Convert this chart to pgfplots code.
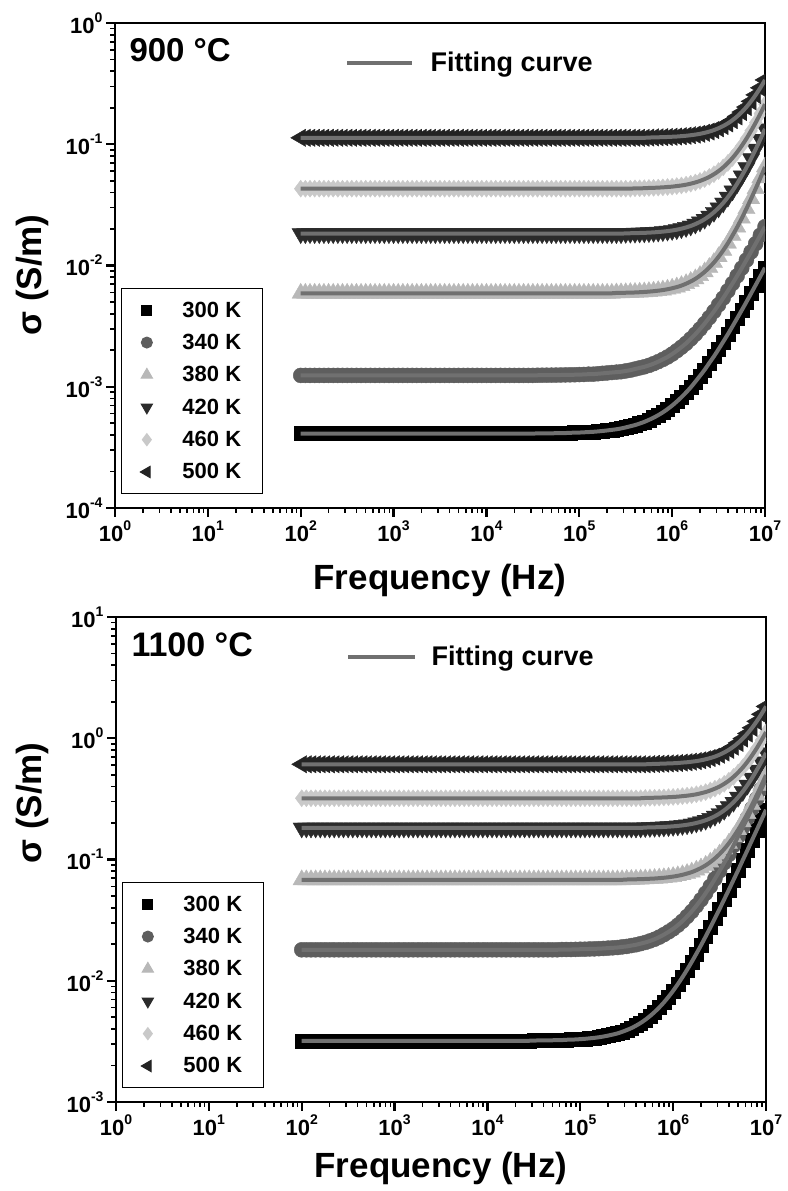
\documentclass[border=0pt]{standalone}
\usepackage{pgfplots}
\pgfplotsset{compat=1.18}
\usepackage{pgfplotstable}
\usepackage{fontspec}
\setmainfont{Liberation Sans}
\definecolor{cB}{HTML}{000000}
\definecolor{cC}{HTML}{5E5E5E}
\definecolor{cT}{HTML}{B8B8B8}
\definecolor{cD}{HTML}{2B2B2B}
\definecolor{cDi}{HTML}{C9C9C9}
\definecolor{cL}{HTML}{232323}
\definecolor{fitg}{HTML}{707070}
\newcommand\tlab[1]{10\raisebox{0.5em}{\fontsize{14}{14}\selectfont #1}}

\pgfplotstableread{
f s300 s340 s380 s420 s460 s500
1.000e2 4.1e-4 1.24e-3 0.0059 0.0183 0.043 0.113
1.122e2 4.1e-4 1.24e-3 0.0059 0.0183 0.043 0.113
1.259e2 4.1e-4 1.24e-3 0.0059 0.0183 0.043 0.113
1.413e2 4.1e-4 1.24e-3 0.0059 0.0183 0.043 0.113
1.585e2 4.1e-4 1.24e-3 0.0059 0.0183 0.043 0.113
1.778e2 4.1e-4 1.24e-3 0.0059 0.0183 0.043 0.113
1.995e2 4.1e-4 1.24e-3 0.0059 0.0183 0.043 0.113
2.239e2 4.1e-4 1.24e-3 0.0059 0.0183 0.043 0.113
2.512e2 4.1e-4 1.24e-3 0.0059 0.0183 0.043 0.113
2.818e2 4.1e-4 1.24e-3 0.0059 0.0183 0.043 0.113
3.162e2 4.1e-4 1.24e-3 0.0059 0.0183 0.043 0.113
3.548e2 4.1e-4 1.24e-3 0.0059 0.0183 0.043 0.113
3.981e2 4.1e-4 1.24e-3 0.0059 0.0183 0.043 0.113
4.467e2 4.1e-4 1.24e-3 0.0059 0.0183 0.043 0.113
5.012e2 4.1e-4 1.24e-3 0.0059 0.0183 0.043 0.113
5.623e2 4.1e-4 1.24e-3 0.0059 0.0183 0.043 0.113
6.310e2 4.1e-4 1.24e-3 0.0059 0.0183 0.043 0.113
7.079e2 4.1e-4 1.24e-3 0.0059 0.0183 0.043 0.113
7.943e2 4.1e-4 1.24e-3 0.0059 0.0183 0.043 0.113
8.913e2 4.1e-4 1.24e-3 0.0059 0.0183 0.043 0.113
1.000e3 4.1e-4 1.24e-3 0.0059 0.0183 0.043 0.113
1.122e3 4.1e-4 1.24e-3 0.0059 0.0183 0.043 0.113
1.259e3 4.1e-4 1.24e-3 0.0059 0.0183 0.043 0.113
1.413e3 4.1e-4 1.24e-3 0.0059 0.0183 0.043 0.113
1.585e3 4.1e-4 1.24e-3 0.0059 0.0183 0.043 0.113
1.778e3 4.1e-4 1.24e-3 0.0059 0.0183 0.043 0.113
1.995e3 4.1e-4 1.24e-3 0.0059 0.0183 0.043 0.113
2.239e3 4.1e-4 1.24e-3 0.0059 0.0183 0.043 0.113
2.512e3 4.1e-4 1.24e-3 0.0059 0.0183 0.043 0.113
2.818e3 4.1e-4 1.24e-3 0.0059 0.0183 0.043 0.113
3.162e3 4.1e-4 1.24e-3 0.0059 0.0183 0.043 0.113
3.548e3 4.1e-4 1.24e-3 0.0059 0.0183 0.043 0.113
3.981e3 4.1e-4 1.24e-3 0.0059 0.0183 0.043 0.113
4.467e3 4.1e-4 1.24e-3 0.0059 0.0183 0.043 0.113
5.012e3 4.1e-4 1.24e-3 0.0059 0.0183 0.043 0.113
5.623e3 4.1e-4 1.24e-3 0.0059 0.0183 0.043 0.113
6.310e3 4.1e-4 1.24e-3 0.0059 0.0183 0.043 0.113
7.079e3 4.1e-4 1.24e-3 0.0059 0.0183 0.043 0.113
7.943e3 4.1e-4 1.24e-3 0.0059 0.0183 0.043 0.113
8.913e3 4.1e-4 1.24e-3 0.0059 0.0183 0.043 0.113
1.000e4 4.1e-4 1.24e-3 0.0059 0.0183 0.043 0.113
1.122e4 4.1e-4 1.24e-3 0.0059 0.0183 0.043 0.113
1.259e4 4.1e-4 1.24e-3 0.0059 0.0183 0.043 0.113
1.413e4 4.1e-4 1.24e-3 0.0059 0.0183 0.043 0.113
1.585e4 4.1e-4 1.24e-3 0.0059 0.0183 0.043 0.113
1.778e4 4.1e-4 1.24e-3 0.0059 0.0183 0.043 0.113
1.995e4 4.1e-4 1.24e-3 0.0059 0.0183 0.043 0.113
2.239e4 4.1e-4 1.24e-3 0.0059 0.0183 0.043 0.113
2.512e4 4.1e-4 1.24e-3 0.0059 0.0183 0.043 0.113
2.818e4 4.1e-4 1.24e-3 0.0059 0.0183 0.043 0.113
3.162e4 4.11e-4 1.24e-3 0.0059 0.0183 0.043 0.113
3.548e4 4.12e-4 1.244e-3 0.0059 0.0183 0.043 0.113
3.981e4 4.12e-4 1.245e-3 0.0059 0.0183 0.043 0.113
4.467e4 4.13e-4 1.246e-3 0.0059 0.0183 0.043 0.113
5.012e4 4.13e-4 1.247e-3 0.0059 0.0183 0.043 0.113
5.623e4 4.14e-4 1.248e-3 0.0059 0.0183 0.043 0.113
6.310e4 4.15e-4 1.25e-3 0.0059 0.0183 0.043 0.113
7.079e4 4.15e-4 1.252e-3 0.0059 0.0183 0.043 0.113
7.943e4 4.17e-4 1.254e-3 0.0059 0.0183 0.043 0.113
8.913e4 4.18e-4 1.256e-3 0.0059 0.0183 0.043 0.113
1.000e5 4.19e-4 1.26e-3 0.0059 0.0183 0.043 0.113
1.122e5 4.21e-4 1.263e-3 0.0059 0.0183 0.043 0.113
1.259e5 4.23e-4 1.27e-3 0.0059 0.0183 0.043 0.113
1.413e5 4.25e-4 1.27e-3 0.0059 0.0183 0.043 0.113
1.585e5 4.28e-4 1.28e-3 0.0059 0.0183 0.043 0.113
1.778e5 4.32e-4 1.29e-3 0.0059 0.0183 0.043 0.113
1.995e5 4.36e-4 1.30e-3 0.0059 0.0183 0.043 0.113
2.239e5 4.41e-4 1.31e-3 0.0059 0.0183 0.043 0.113
2.512e5 4.46e-4 1.32e-3 0.00594 0.0183 0.043 0.113
2.818e5 4.53e-4 1.33e-3 0.00595 0.0183 0.043 0.113
3.162e5 4.62e-4 1.35e-3 0.00596 0.01841 0.043 0.113
3.548e5 4.72e-4 1.37e-3 0.00598 0.01845 0.043 0.113
3.981e5 4.83e-4 1.40e-3 0.00599 0.01848 0.0433 0.113
4.467e5 4.97e-4 1.43e-3 0.00602 0.01854 0.0433 0.113
5.012e5 5.13e-4 1.46e-3 0.00605 0.01859 0.0434 0.113
5.623e5 5.33e-4 1.50e-3 0.00609 0.01867 0.0436 0.1135
6.310e5 5.56e-4 1.55e-3 0.00614 0.01876 0.0437 0.1139
7.079e5 5.83e-4 1.61e-3 0.00620 0.01889 0.0439 0.1141
7.943e5 6.15e-4 1.68e-3 0.00627 0.01903 0.0441 0.1145
8.913e5 6.54e-4 1.76e-3 0.00637 0.01922 0.0444 0.1148
1.000e6 7.00e-4 1.86e-3 0.00649 0.01945 0.0447 0.1153
1.122e6 7.55e-4 1.98e-3 0.00664 0.01975 0.0452 0.1158
1.259e6 8.20e-4 2.12e-3 0.00683 0.02013 0.0457 0.1166
1.413e6 8.97e-4 2.28e-3 0.00708 0.02061 0.0464 0.1175
1.585e6 9.88e-4 2.48e-3 0.00738 0.02119 0.0473 0.1187
1.778e6 1.10e-3 2.71e-3 0.00776 0.02196 0.0484 0.1201
1.995e6 1.23e-3 2.99e-3 0.00825 0.02289 0.0498 0.1219
2.239e6 1.38e-3 3.32e-3 0.00886 0.02408 0.0516 0.1243
2.512e6 1.57e-3 3.72e-3 0.00962 0.02558 0.0538 0.1272
2.818e6 1.78e-3 4.18e-3 0.01058 0.02747 0.0566 0.1309
3.162e6 2.04e-3 4.74e-3 0.0118 0.02985 0.0601 0.1356
3.548e6 2.35e-3 5.39e-3 0.01333 0.0328 0.0645 0.1414
3.981e6 2.71e-3 6.18e-3 0.01525 0.0366 0.0701 0.1487
4.467e6 3.15e-3 7.11e-3 0.0177 0.0413 0.0771 0.158
5.012e6 3.67e-3 8.21e-3 0.0207 0.0473 0.0860 0.1696
5.623e6 4.28e-3 9.52e-3 0.02454 0.0549 0.0971 0.1843
6.310e6 5.01e-3 1.109e-2 0.0294 0.0642 0.1112 0.2027
7.079e6 5.88e-3 1.295e-2 0.0355 0.0761 0.129 0.226
7.943e6 6.91e-3 1.515e-2 0.0431 0.0911 0.1509 0.2553
8.913e6 8.13e-3 1.778e-2 0.0527 0.1100 0.1789 0.2921
1.000e7 9.59e-3 2.09e-2 0.0649 0.1338 0.2141 0.339
}\tA

\pgfplotstableread{
f s300 s340 s380 s420 s460 s500
1.000e2 3.2e-3 0.018 0.068 0.182 0.32 0.61
1.122e2 3.2e-3 0.018 0.068 0.182 0.32 0.61
1.259e2 3.2e-3 0.018 0.068 0.182 0.32 0.61
1.413e2 3.2e-3 0.018 0.068 0.182 0.32 0.61
1.585e2 3.2e-3 0.018 0.068 0.182 0.32 0.61
1.778e2 3.2e-3 0.018 0.068 0.182 0.32 0.61
1.995e2 3.2e-3 0.018 0.068 0.182 0.32 0.61
2.239e2 3.2e-3 0.018 0.068 0.182 0.32 0.61
2.512e2 3.2e-3 0.018 0.068 0.182 0.32 0.61
2.818e2 3.2e-3 0.018 0.068 0.182 0.32 0.61
3.162e2 3.2e-3 0.018 0.068 0.182 0.32 0.61
3.548e2 3.2e-3 0.018 0.068 0.182 0.32 0.61
3.981e2 3.2e-3 0.018 0.068 0.182 0.32 0.61
4.467e2 3.2e-3 0.018 0.068 0.182 0.32 0.61
5.012e2 3.2e-3 0.018 0.068 0.182 0.32 0.61
5.623e2 3.2e-3 0.018 0.068 0.182 0.32 0.61
6.310e2 3.2e-3 0.018 0.068 0.182 0.32 0.61
7.079e2 3.2e-3 0.018 0.068 0.182 0.32 0.61
7.943e2 3.2e-3 0.018 0.068 0.182 0.32 0.61
8.913e2 3.2e-3 0.018 0.068 0.182 0.32 0.61
1.000e3 3.2e-3 0.018 0.068 0.182 0.32 0.61
1.122e3 3.2e-3 0.018 0.068 0.182 0.32 0.61
1.259e3 3.2e-3 0.018 0.068 0.182 0.32 0.61
1.413e3 3.2e-3 0.018 0.068 0.182 0.32 0.61
1.585e3 3.2e-3 0.018 0.068 0.182 0.32 0.61
1.778e3 3.2e-3 0.018 0.068 0.182 0.32 0.61
1.995e3 3.2e-3 0.018 0.068 0.182 0.32 0.61
2.239e3 3.2e-3 0.018 0.068 0.182 0.32 0.61
2.512e3 3.2e-3 0.018 0.068 0.182 0.32 0.61
2.818e3 3.2e-3 0.018 0.068 0.182 0.32 0.61
3.162e3 3.2e-3 0.018 0.068 0.182 0.32 0.61
3.548e3 3.2e-3 0.018 0.068 0.182 0.32 0.61
3.981e3 3.2e-3 0.018 0.068 0.182 0.32 0.61
4.467e3 3.2e-3 0.018 0.068 0.182 0.32 0.61
5.012e3 3.2e-3 0.018 0.068 0.182 0.32 0.61
5.623e3 3.2e-3 0.018 0.068 0.182 0.32 0.61
6.310e3 3.2e-3 0.018 0.068 0.182 0.32 0.61
7.079e3 3.2e-3 0.018 0.068 0.182 0.32 0.61
7.943e3 3.2e-3 0.018 0.068 0.182 0.32 0.61
8.913e3 3.2e-3 0.018 0.068 0.182 0.32 0.61
1.000e4 3.2e-3 0.018 0.068 0.182 0.32 0.61
1.122e4 3.2e-3 0.018 0.068 0.182 0.32 0.61
1.259e4 3.2e-3 0.018 0.068 0.182 0.32 0.61
1.413e4 3.2e-3 0.018 0.068 0.182 0.32 0.61
1.585e4 3.2e-3 0.018 0.068 0.182 0.32 0.61
1.778e4 3.2e-3 0.018 0.068 0.182 0.32 0.61
1.995e4 3.2e-3 0.018 0.068 0.182 0.32 0.61
2.239e4 3.2e-3 0.018 0.068 0.182 0.32 0.61
2.512e4 3.2e-3 0.018 0.068 0.182 0.32 0.61
2.818e4 3.2e-3 0.018 0.068 0.182 0.32 0.61
3.162e4 3.21e-3 0.018 0.068 0.182 0.32 0.61
3.548e4 3.22e-3 0.018 0.068 0.182 0.32 0.61
3.981e4 3.22e-3 0.018 0.068 0.182 0.32 0.61
4.467e4 3.23e-3 0.018 0.068 0.182 0.32 0.61
5.012e4 3.23e-3 0.018 0.068 0.182 0.32 0.61
5.623e4 3.24e-3 0.018 0.068 0.182 0.32 0.61
6.310e4 3.24e-3 0.0181 0.068 0.182 0.32 0.61
7.079e4 3.26e-3 0.0181 0.068 0.182 0.32 0.61
7.943e4 3.27e-3 0.0181 0.068 0.182 0.32 0.61
8.913e4 3.28e-3 0.01814 0.068 0.182 0.32 0.61
1.000e5 3.30e-3 0.0182 0.068 0.182 0.32 0.61
1.122e5 3.32e-3 0.01821 0.068 0.182 0.32 0.61
1.259e5 3.35e-3 0.0183 0.068 0.182 0.32 0.61
1.413e5 3.38e-3 0.01832 0.068 0.182 0.32 0.61
1.585e5 3.42e-3 0.0184 0.068 0.182 0.32 0.61
1.778e5 3.47e-3 0.01847 0.068 0.182 0.32 0.61
1.995e5 3.53e-3 0.0186 0.068 0.182 0.32 0.61
2.239e5 3.60e-3 0.01869 0.068 0.182 0.32 0.61
2.512e5 3.68e-3 0.0188 0.068 0.182 0.32 0.61
2.818e5 3.79e-3 0.01902 0.068 0.182 0.32 0.61
3.162e5 3.92e-3 0.0192 0.0684 0.182 0.32 0.61
3.548e5 4.07e-3 0.01951 0.0685 0.182 0.32 0.61
3.981e5 4.26e-3 0.0198 0.0687 0.182 0.32 0.61
4.467e5 4.49e-3 0.02024 0.0689 0.182 0.32 0.61
5.012e5 4.77e-3 0.0207 0.0691 0.1835 0.3219 0.61
5.623e5 5.11e-3 0.0213 0.0694 0.1838 0.3226 0.612
6.310e5 5.52e-3 0.0220 0.0697 0.1844 0.3232 0.615
7.079e5 6.02e-3 0.0229 0.0702 0.1849 0.3242 0.616
7.943e5 6.62e-3 0.0240 0.0707 0.1856 0.325 0.618
8.913e5 7.37e-3 0.0253 0.0714 0.1866 0.3264 0.620
1.000e6 8.27e-3 0.0268 0.0723 0.1878 0.328 0.622
1.122e6 9.37e-3 0.0287 0.0734 0.1893 0.330 0.625
1.259e6 1.07e-2 0.0310 0.0748 0.1911 0.333 0.630
1.413e6 1.232e-2 0.0339 0.0766 0.1935 0.336 0.634
1.585e6 1.43e-2 0.0373 0.0787 0.1964 0.340 0.641
1.778e6 1.67e-2 0.0415 0.0816 0.2002 0.345 0.648
1.995e6 1.96e-2 0.0465 0.0851 0.2049 0.352 0.658
2.239e6 2.317e-2 0.0527 0.0895 0.2108 0.360 0.671
2.512e6 2.75e-2 0.0601 0.0951 0.2184 0.371 0.687
2.818e6 3.27e-2 0.0693 0.1021 0.2277 0.384 0.706
3.162e6 3.91e-2 0.0805 0.1109 0.2395 0.400 0.732
3.548e6 4.69e-2 0.094 0.122 0.2544 0.421 0.763
3.981e6 5.63e-2 0.110 0.136 0.2732 0.447 0.803
4.467e6 6.78e-2 0.1303 0.1536 0.2968 0.480 0.853
5.012e6 8.16e-2 0.155 0.1758 0.3265 0.522 0.916
5.623e6 9.89e-2 0.184 0.204 0.364 0.574 0.995
6.310e6 0.1194 0.220 0.239 0.411 0.640 1.094
7.079e6 0.1446 0.264 0.283 0.470 0.723 1.22
7.943e6 0.175 0.317 0.339 0.546 0.827 1.378
8.913e6 0.212 0.382 0.409 0.639 0.960 1.577
1.000e7 0.257 0.459 0.497 0.757 1.123 1.83
}\tB

\begin{document}
\begin{tikzpicture}
\useasboundingbox (0pt,0pt) rectangle (787pt,1191pt);
% top panel
\begin{axis}[
    at={(115pt,683pt)}, anchor=south west,
    scale only axis, width=650pt, height=485pt,
    xmode=log, ymode=log,
    xmin=1, xmax=1e7, ymin=1e-4, ymax=1,
    clip marker paths=true,
    axis line style={line width=2.6pt},
    tick align=outside, tick pos=left,
    major tick length=9pt, minor tick length=5pt,
    major tick style={line width=2.2pt, black},
    minor tick style={line width=1.6pt, black},
    xtick={1,10,100,1000,10000,100000,1000000,10000000},
    xticklabels={\tlab{0},\tlab{1},\tlab{2},\tlab{3},\tlab{4},\tlab{5},\tlab{6},\tlab{7}},
    ytick={0.0001,0.001,0.01,0.1,1},
    yticklabels={\tlab{-4},\tlab{-3},\tlab{-2},\tlab{-1},\tlab{0}},
    ticklabel style={font=\bfseries\fontsize{22}{24}\selectfont},
    legend cell align=left,
    legend style={at={(0.009,0.029)}, anchor=south west,
      draw=black, line width=1pt, font=\bfseries\fontsize{22}{24}\selectfont,
      row sep=11.5pt, column sep=28pt, inner xsep=19pt, inner ysep=11pt},
  ]
\addlegendimage{only marks, mark=square*, mark size=5pt, color=cB}
\addlegendimage{only marks, mark=*, mark size=5.5pt, color=cC}
\addlegendimage{only marks, mark=triangle*, mark size=6.5pt, color=cT}
\addlegendimage{only marks, mark=triangle*, mark size=6.5pt, color=cD, mark options={rotate=180}}
\addlegendimage{only marks, mark=diamond*, mark size=6pt, color=cDi}
\addlegendimage{only marks, mark=triangle*, mark size=6.5pt, color=cL, mark options={rotate=90}}
\addplot[forget plot, only marks, mark=square*, mark size=7pt, color=cB] table[x=f,y=s300]{\tA};
\addplot[forget plot, only marks, mark=*, mark size=7.5pt, color=cC] table[x=f,y=s340]{\tA};
\addplot[forget plot, only marks, mark=triangle*, mark size=10pt, color=cT] table[x=f,y=s380]{\tA};
\addplot[forget plot, only marks, mark=triangle*, mark size=10pt, color=cD, mark options={rotate=180}] table[x=f,y=s420]{\tA};
\addplot[forget plot, only marks, mark=diamond*, mark size=8.5pt, color=cDi] table[x=f,y=s460]{\tA};
\addplot[forget plot, only marks, mark=triangle*, mark size=10pt, color=cL, mark options={rotate=90}] table[x=f,y=s500]{\tA};
\addplot[forget plot, no markers, smooth, line width=4pt, color=fitg] table[x=f,y=s300]{\tA};
\addplot[forget plot, no markers, smooth, line width=4pt, color=fitg] table[x=f,y=s340]{\tA};
\addplot[forget plot, no markers, smooth, line width=4pt, color=fitg] table[x=f,y=s380]{\tA};
\addplot[forget plot, no markers, smooth, line width=4pt, color=fitg] table[x=f,y=s420]{\tA};
\addplot[forget plot, no markers, smooth, line width=4pt, color=fitg] table[x=f,y=s460]{\tA};
\addplot[forget plot, no markers, smooth, line width=4pt, color=fitg] table[x=f,y=s500]{\tA};
\legend{300 K,340 K,380 K,420 K,460 K,500 K}
\end{axis}
% bottom panel
\begin{axis}[
    at={(116pt,89pt)}, anchor=south west,
    scale only axis, width=650pt, height=485pt,
    xmode=log, ymode=log,
    xmin=1, xmax=1e7, ymin=1e-3, ymax=10,
    clip marker paths=true,
    axis line style={line width=2.6pt},
    tick align=outside, tick pos=left,
    major tick length=9pt, minor tick length=5pt,
    major tick style={line width=2.2pt, black},
    minor tick style={line width=1.6pt, black},
    xtick={1,10,100,1000,10000,100000,1000000,10000000},
    xticklabels={\tlab{0},\tlab{1},\tlab{2},\tlab{3},\tlab{4},\tlab{5},\tlab{6},\tlab{7}},
    ytick={0.001,0.01,0.1,1,10},
    yticklabels={\tlab{-3},\tlab{-2},\tlab{-1},\tlab{0},\tlab{1}},
    ticklabel style={font=\bfseries\fontsize{22}{24}\selectfont},
    legend cell align=left,
    legend style={at={(0.009,0.029)}, anchor=south west,
      draw=black, line width=1pt, font=\bfseries\fontsize{22}{24}\selectfont,
      row sep=11.5pt, column sep=28pt, inner xsep=19pt, inner ysep=11pt},
  ]
\addlegendimage{only marks, mark=square*, mark size=5pt, color=cB}
\addlegendimage{only marks, mark=*, mark size=5.5pt, color=cC}
\addlegendimage{only marks, mark=triangle*, mark size=6.5pt, color=cT}
\addlegendimage{only marks, mark=triangle*, mark size=6.5pt, color=cD, mark options={rotate=180}}
\addlegendimage{only marks, mark=diamond*, mark size=6pt, color=cDi}
\addlegendimage{only marks, mark=triangle*, mark size=6.5pt, color=cL, mark options={rotate=90}}
\addplot[forget plot, only marks, mark=square*, mark size=7pt, color=cB] table[x=f,y=s300]{\tB};
\addplot[forget plot, only marks, mark=*, mark size=7.5pt, color=cC] table[x=f,y=s340]{\tB};
\addplot[forget plot, only marks, mark=triangle*, mark size=10pt, color=cT] table[x=f,y=s380]{\tB};
\addplot[forget plot, only marks, mark=triangle*, mark size=10pt, color=cD, mark options={rotate=180}] table[x=f,y=s420]{\tB};
\addplot[forget plot, only marks, mark=diamond*, mark size=8.5pt, color=cDi] table[x=f,y=s460]{\tB};
\addplot[forget plot, only marks, mark=triangle*, mark size=10pt, color=cL, mark options={rotate=90}] table[x=f,y=s500]{\tB};
\addplot[forget plot, no markers, smooth, line width=4pt, color=fitg] table[x=f,y=s300]{\tB};
\addplot[forget plot, no markers, smooth, line width=4pt, color=fitg] table[x=f,y=s340]{\tB};
\addplot[forget plot, no markers, smooth, line width=4pt, color=fitg] table[x=f,y=s380]{\tB};
\addplot[forget plot, no markers, smooth, line width=4pt, color=fitg] table[x=f,y=s420]{\tB};
\addplot[forget plot, no markers, smooth, line width=4pt, color=fitg] table[x=f,y=s460]{\tB};
\addplot[forget plot, no markers, smooth, line width=4pt, color=fitg] table[x=f,y=s500]{\tB};
\legend{300 K,340 K,380 K,420 K,460 K,500 K}
\end{axis}
% texts
\node[anchor=base west, font=\bfseries\fontsize{33}{33}\selectfont] at (126pt,1129pt) {900 °C};
\node[anchor=base west, font=\bfseries\fontsize{34}{34}\selectfont] at (128pt,534pt) {1100 °C};
\draw[fitg, line width=4pt] (347pt,1128pt) -- (412pt,1128pt);
\node[anchor=base west, font=\bfseries\fontsize{27}{27}\selectfont] at (427pt,1119pt) {Fitting curve};
\draw[fitg, line width=4pt] (348pt,534pt) -- (415pt,534pt);
\node[anchor=base west, font=\bfseries\fontsize{27}{27}\selectfont] at (428pt,525pt) {Fitting curve};
\node[anchor=base, font=\bfseries\fontsize{35}{35}\selectfont] at (440pt,601pt) {Frequency (Hz)};
\node[anchor=base, font=\bfseries\fontsize{35}{35}\selectfont] at (441pt,13pt) {Frequency (Hz)};
\node[rotate=90, font=\bfseries\fontsize{35}{35}\selectfont] at (32pt,916pt) {σ (S/m)};
\node[rotate=90, font=\bfseries\fontsize{35}{35}\selectfont] at (32pt,388pt) {σ (S/m)};
\end{tikzpicture}
\end{document}
